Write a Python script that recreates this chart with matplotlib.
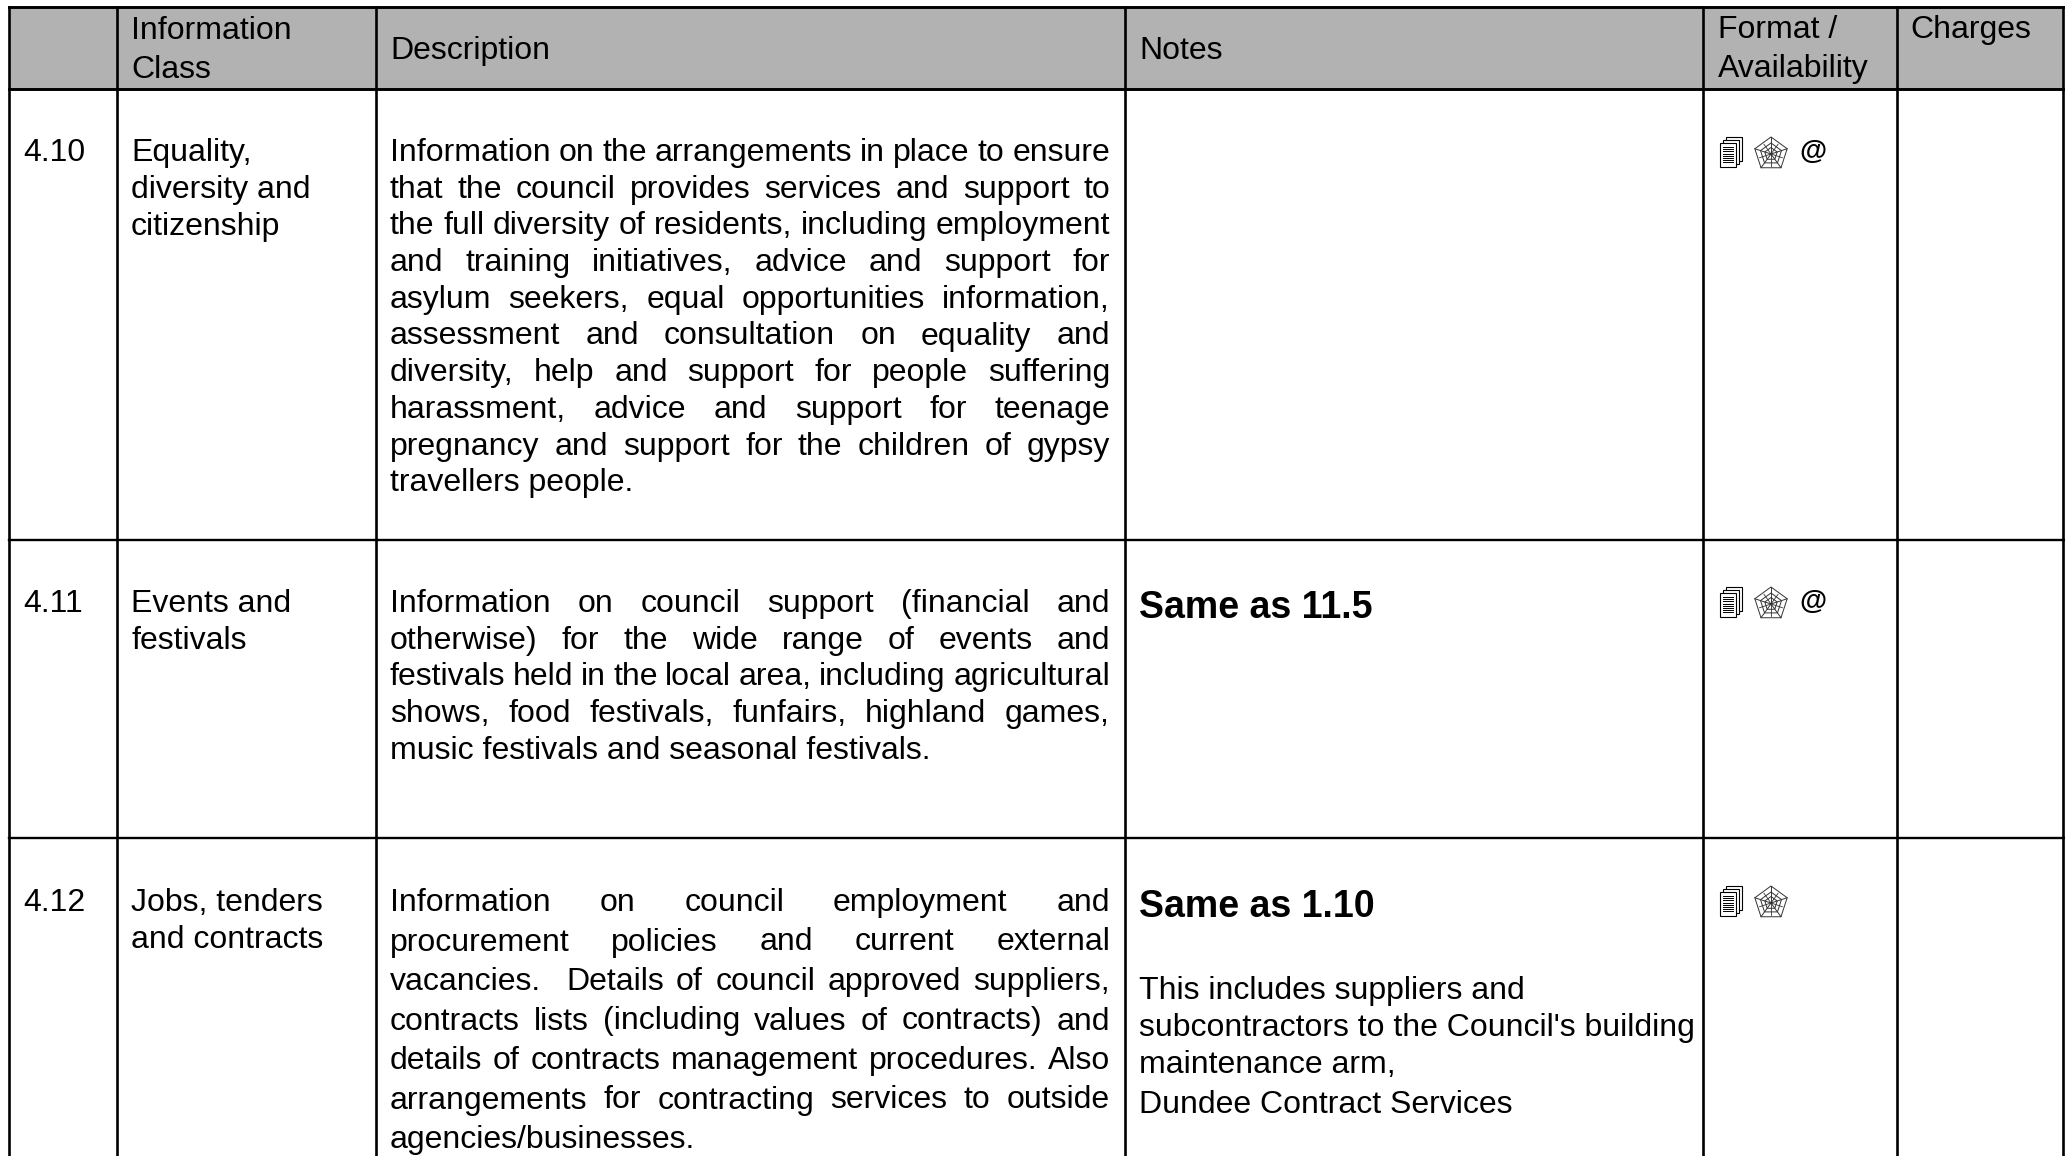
import matplotlib
matplotlib.use("Agg")
import matplotlib.pyplot as plt
from matplotlib.patches import Rectangle, Polygon
import numpy as np

W, H = 2065, 1156
FONT = "Liberation Sans"
SIZE = 23.05

col_lines = [9, 117, 376, 1125, 1703, 1897, 2063]
row_lines = [540, 838]
head_top, head_bot = 7, 89

header_cells = [
    (131, [39, 78], ["Information", "Class"]),
    (390, [59], ["Description"]),
    (1139, [59], ["Notes"]),
    (1718, [38, 77], ["Format /", "Availability"]),
    (1910, [38], ["Charges"]),
]

row_ids = ["4.10", "4.11", "4.12"]
row_id_base = [161, 612, 911]

classes = [
    ["Equality,", "diversity and", "citizenship"],
    ["Events and", "festivals"],
    ["Jobs, tenders", "and contracts"],
]

desc_1 = [
    "Information on the arrangements in place to ensure",
    "that the council provides services and support to",
    "the full diversity of residents, including employment",
    "and training initiatives, advice and support for",
    "asylum seekers, equal opportunities information,",
    "assessment and consultation on equality and",
    "diversity, help and support for people suffering",
    "harassment, advice and support for teenage",
    "pregnancy and support for the children of gypsy",
    "travellers people.",
]
desc_2 = [
    "Information on council support (financial and",
    "otherwise) for the wide range of events and",
    "festivals held in the local area, including agricultural",
    "shows, food festivals, funfairs, highland games,",
    "music festivals and seasonal festivals.",
]
desc_3 = [
    "Information on council employment and",
    "procurement policies and current external",
    "vacancies.  Details of council approved suppliers,",
    "contracts lists (including values of contracts) and",
    "details of contracts management procedures. Also",
    "arrangements for contracting services to outside",
    "agencies/businesses.",
]
desc_pitch = [36.7, 36.7, 39.5]
descriptions = [desc_1, desc_2, desc_3]

notes_bold = [(618, "Same as 11.5"), (917, "Same as 1.10")]
notes_plain = [
    (999, "This includes suppliers and"),
    (1036, "subcontractors to the Council's building"),
    (1073, "maintenance arm,"),
    (1113, "Dundee Contract Services"),
]

icon_offset = [0, 450, 749]
has_at = [True, True, False]

fig = plt.figure(figsize=(W / 100, H / 100), dpi=100)
ax = fig.add_axes([0, 0, 1, 1])
ax.set_xlim(0, W)
ax.set_ylim(H, 0)
ax.axis("off")

rend = fig.canvas.get_renderer()


def txt(x, y, s, **kw):
    kw.setdefault("fontsize", SIZE)
    return ax.text(x, y, s, family=FONT, va="baseline", ha="left", color="black", **kw)


def justified(x0, x1, y, line):
    # word by word, the gaps take up what is left of the column
    # split on single spaces so the double space after "vacancies." stays wider
    words = line.split(" ")
    ws = []
    for w in words:
        if not w:
            ws.append(0)
            continue
        t = txt(0, 0, w)
        ws.append(t.get_window_extent(rend).width)
        t.remove()
    gap = (x1 - x0 - sum(ws)) / (len(words) - 1)
    x = x0
    for w, wd in zip(words, ws):
        if w:
            txt(x, y, w)
        x += wd + gap


def page_icon(dy):
    for off in [6, 3, 0]:
        ax.add_patch(Rectangle((1720 + off, 143 - off + dy), 16, 24, fc="white", ec="black", lw=0.8, zorder=3))
    for k in range(8):
        yy = 147 + k * 2.2 + dy
        ax.plot([1723, 1733], [yy, yy], color="black", lw=0.7, zorder=4)


def web_icon(dy):
    ang = np.radians(-90 + 72 * np.arange(5))
    cx, cy = 1771, 154 + dy
    for r in [17, 11, 6.5]:
        ax.add_patch(Polygon(np.c_[cx + r * np.cos(ang), cy + r * np.sin(ang)], closed=True, fc="none", ec="#333333", lw=0.7, zorder=3))
    for a in ang:
        ax.plot([cx, cx + 17 * np.cos(a)], [cy, cy + 17 * np.sin(a)], color="#333333", lw=0.7, zorder=3)
    for a in ang + np.radians(36):
        ax.plot([cx, cx + 12 * np.cos(a)], [cy, cy + 12 * np.sin(a)], color="#333333", lw=0.6, zorder=3)


# header band + grid
ax.add_patch(Rectangle((col_lines[0], head_top), col_lines[-1] - col_lines[0], head_bot - head_top, fc="#b2b2b2", ec="none", zorder=0))
ax.plot([col_lines[0], col_lines[-1]], [head_top, head_top], color="black", lw=2.1, zorder=2)
ax.plot([col_lines[0], W], [head_bot, head_bot], color="black", lw=2.1, zorder=2)
for y in row_lines:
    ax.plot([col_lines[0], W], [y, y], color="black", lw=1.7, zorder=2)
for x in col_lines:
    ax.plot([x, x], [head_top, H], color="black", lw=1.9, zorder=2)

for x, ys, lines in header_cells:
    for y, s in zip(ys, lines):
        txt(x, y, s)

for i in range(3):
    base = row_id_base[i]
    txt(23, base, row_ids[i])
    for j, s in enumerate(classes[i]):
        txt(131, base + j * 37, s)
    lines = descriptions[i]
    for j, s in enumerate(lines):
        y = base + j * desc_pitch[i]
        if j == len(lines) - 1:
            txt(390, y, s)
        else:
            justified(390, 1110, y, s)
    page_icon(icon_offset[i])
    web_icon(icon_offset[i])
    if has_at[i]:
        txt(1799, 159 + icon_offset[i], "@", fontsize=20, fontweight="bold")

for y, s in notes_bold:
    txt(1139, y, s, fontsize=27, fontweight="bold")
for y, s in notes_plain:
    txt(1139, y, s)

fig.savefig("out.png", dpi=100, facecolor="white")
